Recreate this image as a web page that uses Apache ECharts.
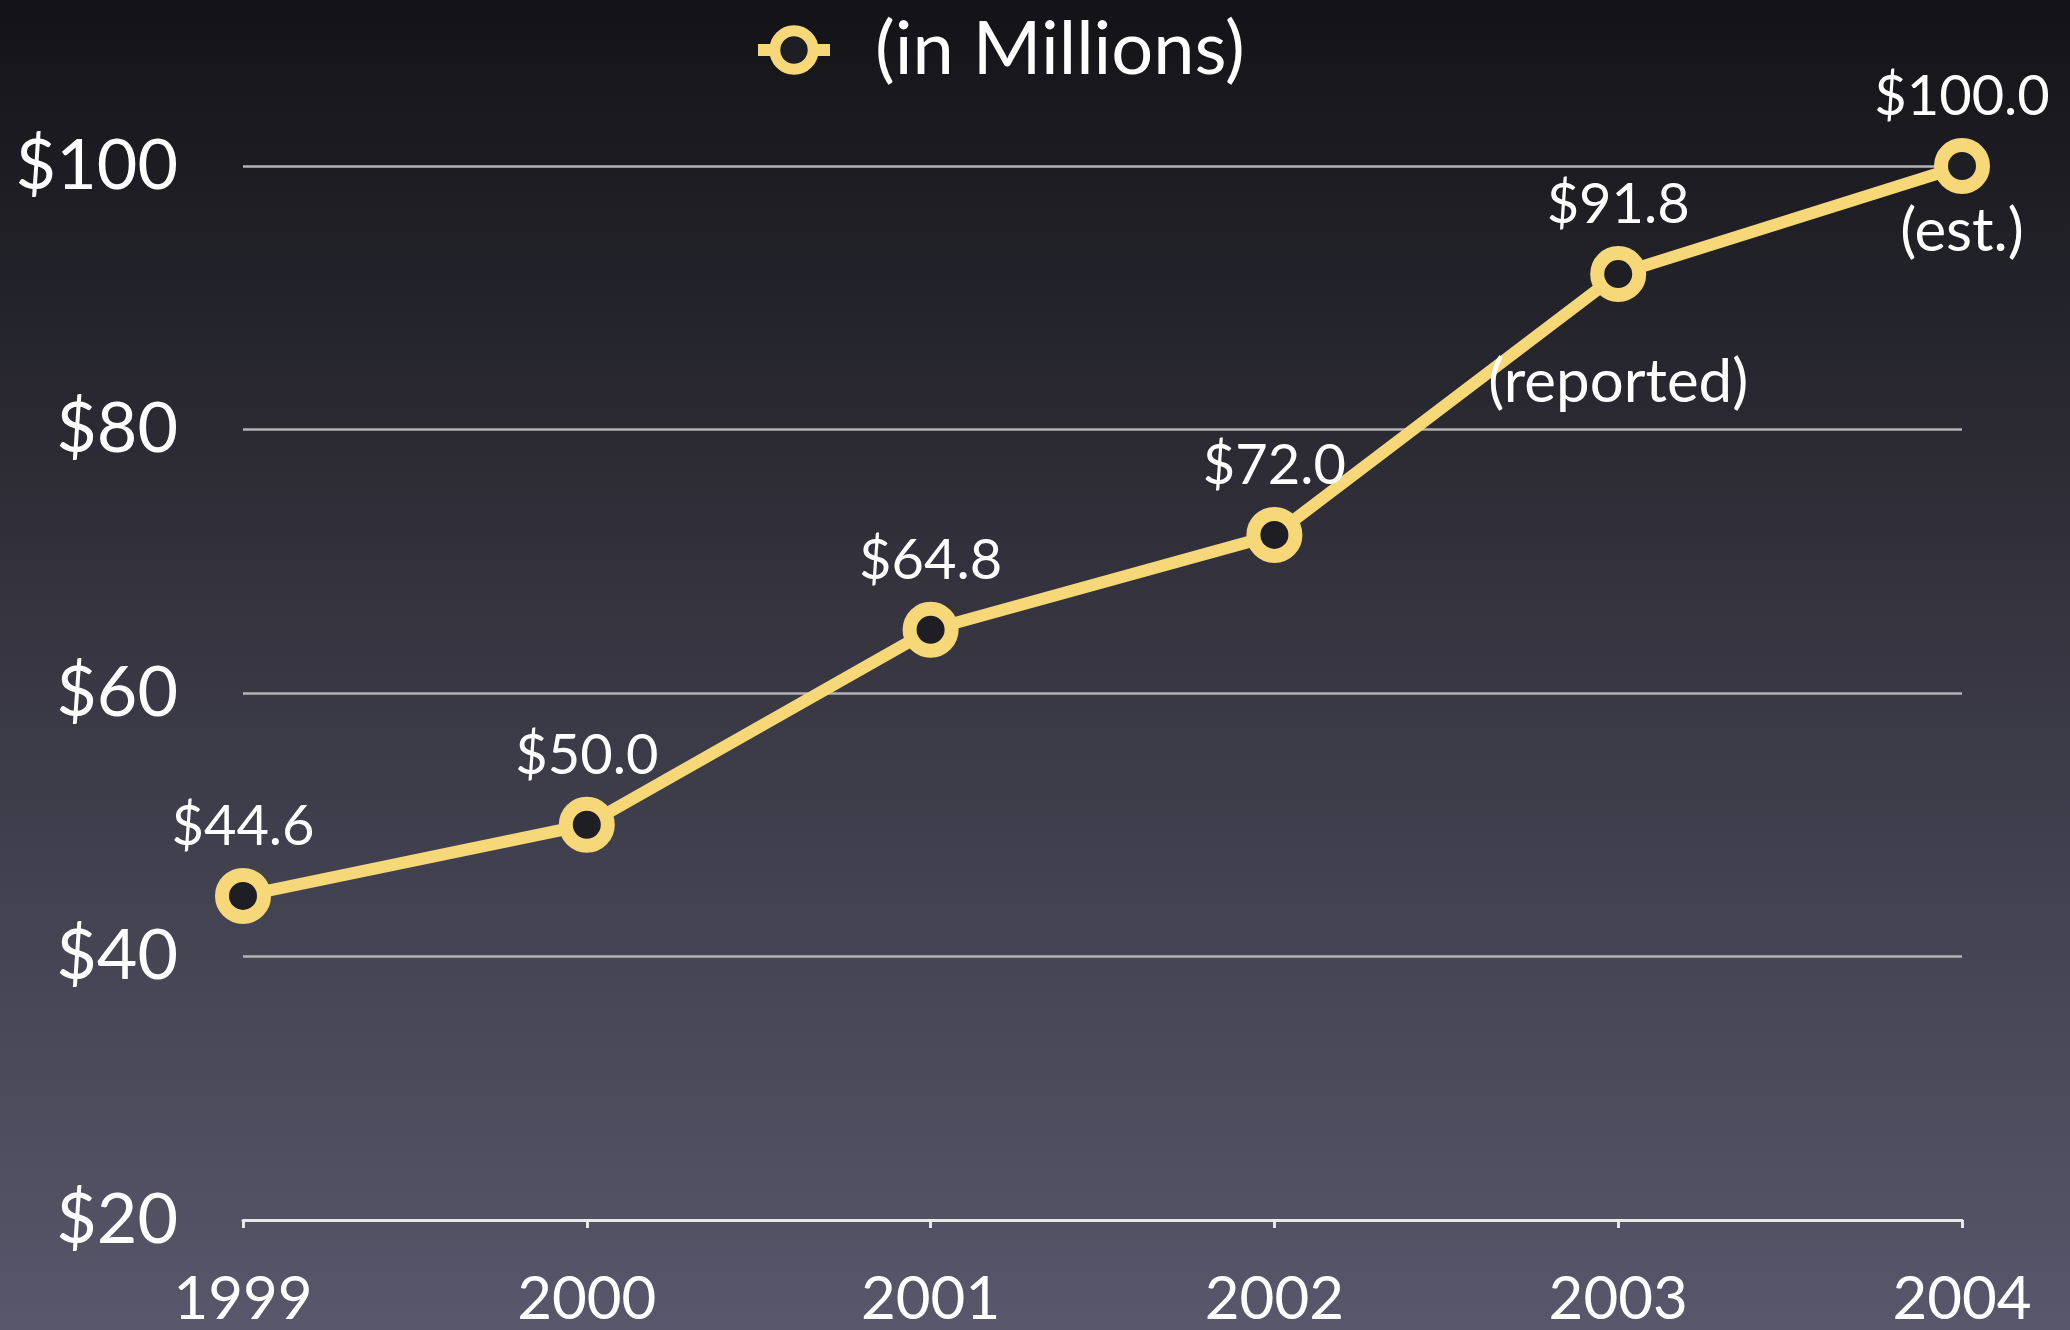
<!DOCTYPE html>
<html>
<head>
<meta charset="utf-8">
<script src="https://cdn.jsdelivr.net/npm/echarts@6/dist/echarts.min.js"></script>
<style>
  html, body { margin: 0; padding: 0; background: #141418; }
  #main { width: 2070px; height: 1330px; }
</style>
</head>
<body>
<div id="main"></div>
<script>
// data
var years = ['1999', '2000', '2001', '2002', '2003', '2004'];
var revenue = [44.6, 50.0, 64.8, 72.0, 91.8, 100.0];
var notes = ['', '', '', '', '(reported)', '(est.)'];
var yTicks = [20, 40, 60, 80, 100];

var FONT = 'Lato';
var YELLOW = '#f6d878';
// how far below the point each note sits
var noteGap = { '(reported)': 78, '(est.)': 35 };

var chart = echarts.init(document.getElementById('main'));

chart.setOption({
    animation: false,
    backgroundColor: {
        type: 'linear', x: 0, y: 0, x2: 0, y2: 1,
        colorStops: [
            { offset: 0, color: '#131317' },
            { offset: 0.45, color: '#34333e' },
            { offset: 1, color: '#58576b' }
        ]
    },
    grid: { left: 243, right: 108, top: 166, bottom: 109 },
    legend: {
        data: ['(in Millions)'],
        left: 747,
        top: 8,
        itemWidth: 72,
        itemHeight: 48,
        lineStyle: { width: 12 },
        itemStyle: { borderWidth: 11 },
        textStyle: { color: '#ffffff', fontFamily: FONT, fontSize: 74, padding: [0, 0, 0, 40] }
    },
    xAxis: {
        type: 'category',
        data: years,
        boundaryGap: false,
        axisLine: { lineStyle: { color: '#e8e8e8', width: 3 } },
        axisTick: { show: true, alignWithLabel: true, length: 8, lineStyle: { color: '#e8e8e8', width: 3 } },
        axisLabel: { color: '#ffffff', fontFamily: FONT, fontSize: 60, lineHeight: 60, margin: 50 },
        splitLine: { show: false }
    },
    yAxis: {
        type: 'value',
        min: yTicks[0],
        max: yTicks[yTicks.length - 1],
        interval: 20,
        axisLine: { show: false },
        axisTick: { show: false },
        axisLabel: {
            color: '#ffffff', fontFamily: FONT, fontSize: 70, margin: 65,
            formatter: function (v) { return '$' + v; }
        },
        splitLine: { lineStyle: { color: '#b4b4b4', width: 2.5 } }
    },
    series: [
        {
            name: '(in Millions)',
            type: 'line',
            data: revenue,
            symbol: 'circle',
            symbolSize: 42,
            z: 5,
            lineStyle: { color: YELLOW, width: 12 },
            itemStyle: { color: '#1f1e25', borderColor: YELLOW, borderWidth: 14 },
            label: {
                show: true,
                position: 'top',
                distance: 13,
                color: '#ffffff',
                fontFamily: FONT,
                fontSize: 56,
                lineHeight: 56,
                formatter: function (p) { return '$' + p.value.toFixed(1); }
            }
        },
        {
            // notes under the last two points
            name: 'notes',
            type: 'line',
            symbol: 'circle',
            symbolSize: 2,
            z: 6,
            lineStyle: { opacity: 0 },
            itemStyle: { color: 'rgba(0,0,0,0)' },
            data: revenue.map(function (v, i) {
                return {
                    value: v,
                    label: { distance: noteGap[notes[i]] || 0 }
                };
            }),
            label: {
                show: true,
                position: 'bottom',
                color: '#ffffff',
                fontFamily: FONT,
                fontSize: 60,
                lineHeight: 60,
                formatter: function (p) { return notes[p.dataIndex]; }
            }
        }
    ]
});
</script>
</body>
</html>
